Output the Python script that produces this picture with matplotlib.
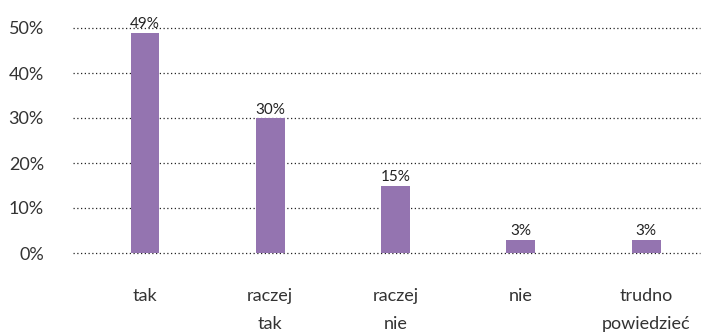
import matplotlib.pyplot as plt
from matplotlib.ticker import FuncFormatter

# odpowiedzi i odsetki
kategorie = ["tak", "raczej\ntak", "raczej\nnie", "nie", "trudno\npowiedzieć"]
procenty = [49, 30, 15, 3, 3]
y_ticki = [0, 10, 20, 30, 40, 50]

plt.rcParams['font.family'] = ['Lato', 'DejaVu Sans']

fig = plt.figure(figsize=(7.05, 3.33), dpi=100)
ax = fig.add_axes([73 / 705, 1 - 253 / 333, 627 / 705, 225 / 333])

x = range(len(kategorie))
ax.bar(x, procenty, width=0.23, color="#9474b0", zorder=3)

for xi, v in zip(x, procenty):
    ax.text(xi, v + 0.3, f"{v}%", ha="center", va="bottom", fontsize=11, color="#222222", zorder=4)

ax.set_xlim(-0.575, 4.43)
ax.set_ylim(0, 50)
ax.set_yticks(y_ticki)
ax.yaxis.set_major_formatter(FuncFormatter(lambda v, p: f"{int(v)}%"))
ax.set_xticks(list(x))
ax.set_xticklabels(kategorie, linespacing=1.95, va="top")
ax.tick_params(axis="y", length=0, pad=21, labelsize=13, labelcolor="#333333")
ax.tick_params(axis="x", length=0, pad=25, labelsize=13, labelcolor="#333333")

ax.grid(axis="y", linestyle=(0, (1, 2)), color="#222222", linewidth=0.9, zorder=0)
for linia in ax.get_ygridlines():
    linia.set_clip_on(False)
for s in ax.spines.values():
    s.set_visible(False)

fig.savefig("out.png", dpi=100)
